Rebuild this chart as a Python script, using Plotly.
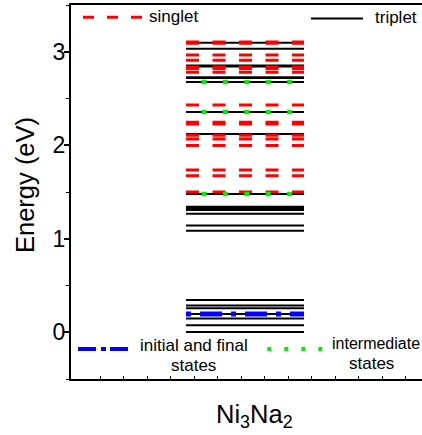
import plotly.graph_objects as go

# ---------------- data (energies in eV) ----------------
singlet_levels = [3.105, 3.090, 2.966, 2.909, 2.838, 2.822, 2.781, 2.431,
                  2.245, 2.228, 2.108, 2.068, 1.998, 1.736, 1.675, 1.499]
triplet_levels = [3.097, 3.033, 2.853, 2.842, 2.728, 2.718, 2.677, 2.356,
                  2.119, 1.478, 1.343, 1.328, 1.307, 1.268, 1.143, 1.085,
                  0.345, 0.287, 0.257, 0.196, 0.146, 0.075, 0.002]
initial_final_levels = [0.196]
intermediate_levels = [2.677, 2.356, 1.478]

legend_labels = ["singlet", "triplet", "initial and final", "intermediate"]
y_tick_vals = [0, 1, 2, 3]
compound_label = "Ni<sub>3</sub>Na<sub>2</sub>"

# ---------------- layout constants ----------------
W, H = 422, 435
ML, MR, MT, MB = 71, 0, 5, 56
PW, PH = W - ML - MR, H - MT - MB
FONT = "Arial, Liberation Sans, sans-serif"

X_RANGE = [-0.234, 14.70]   # 1 unit = 23.5 px
BAR_X0, BAR_X1 = 4.66, 9.68


def px(xp):
    return (xp - ML) / PW


def py(yp):
    return (H - MB - yp) / PH


fig = go.Figure()


def add_levels(levels, color, width, dash):
    for e in levels:
        fig.add_trace(go.Scatter(
            x=[BAR_X0, BAR_X1], y=[e, e], mode="lines",
            line=dict(color=color, width=width, dash=dash),
            showlegend=False, hoverinfo="skip"))


add_levels(triplet_levels, "black", 2, "solid")
add_levels(singlet_levels, "#ff0000", 3, "13px,13.5px")
add_levels(intermediate_levels, "#00f000", 4.5, "0px,15.5px,5px,0.9px")
add_levels(initial_final_levels, "#0000ff", 5, "5px,9px,22px,9px")

# ---------------- legend samples (decoration) ----------------
shapes = [
    dict(type="line", xref="paper", yref="paper", x0=px(83), x1=px(142),
         y0=py(17.3), y1=py(17.3), line=dict(color="#ff0000", width=3, dash="11px,13px")),
    dict(type="line", xref="paper", yref="paper", x0=px(311), x1=px(363),
         y0=py(18.5), y1=py(18.5), line=dict(color="black", width=2)),
    dict(type="line", xref="paper", yref="paper", x0=px(78), x1=px(128.5),
         y0=py(349), y1=py(349), line=dict(color="#0000ff", width=4, dash="18px,5px,5px,4px")),
    dict(type="line", xref="paper", yref="paper", x0=px(267.3), x1=px(323),
         y0=py(349), y1=py(349), line=dict(color="#00f000", width=4, dash="4px,13px")),
]

ann = []


def text(t, xp, yp, size=17, xanchor="left", angle=0):
    ann.append(dict(text=t, xref="paper", yref="paper", x=px(xp), y=py(yp),
                    xanchor=xanchor, yanchor="middle", showarrow=False,
                    textangle=angle, font=dict(family=FONT, size=size, color="black")))


text(legend_labels[0], 147, 16)
text(legend_labels[1], 372.5, 17.5)
text(legend_labels[2], 138, 345)
text("states", 193, 365, xanchor="center")
text(legend_labels[3], 330, 343, size=16)
text("states", 371, 363, xanchor="center")
text("Energy (eV)", 25, 185, size=25.5, xanchor="center", angle=-90)
text(compound_label, 254, 416, size=25.5, xanchor="center")

fig.update_layout(
    width=W, height=H,
    margin=dict(l=ML, r=MR, t=MT, b=MB),
    paper_bgcolor="white", plot_bgcolor="white",
    font=dict(family=FONT, color="black"),
    shapes=shapes, annotations=ann,
    xaxis=dict(range=X_RANGE, showgrid=False, zeroline=False,
               showline=True, linecolor="black", linewidth=2, mirror=True,
               tickmode="array", tickvals=list(range(1, 15)),
               ticks="inside", ticklen=3, tickwidth=1, tickcolor="black",
               showticklabels=False),
    yaxis=dict(range=[-0.5, 3.5], showgrid=False, zeroline=False,
               showline=True, linecolor="black", linewidth=2, mirror=False,
               tickmode="array", tickvals=y_tick_vals,
               ticks="outside", ticklen=5, tickwidth=1.5, tickcolor="black",
               ticklabelstandoff=-6,
               tickfont=dict(family=FONT, size=23, color="black"),
               minor=dict(tickmode="array", tickvals=[-0.5, 0.5, 1.5, 2.5, 3.5],
                          ticks="outside", ticklen=3, tickwidth=1, tickcolor="black")),
)

fig.write_html(
    "out.html",
    config={"displayModeBar": False},
    post_script="document.body.style.margin='0';document.body.style.overflow='hidden';",
)
